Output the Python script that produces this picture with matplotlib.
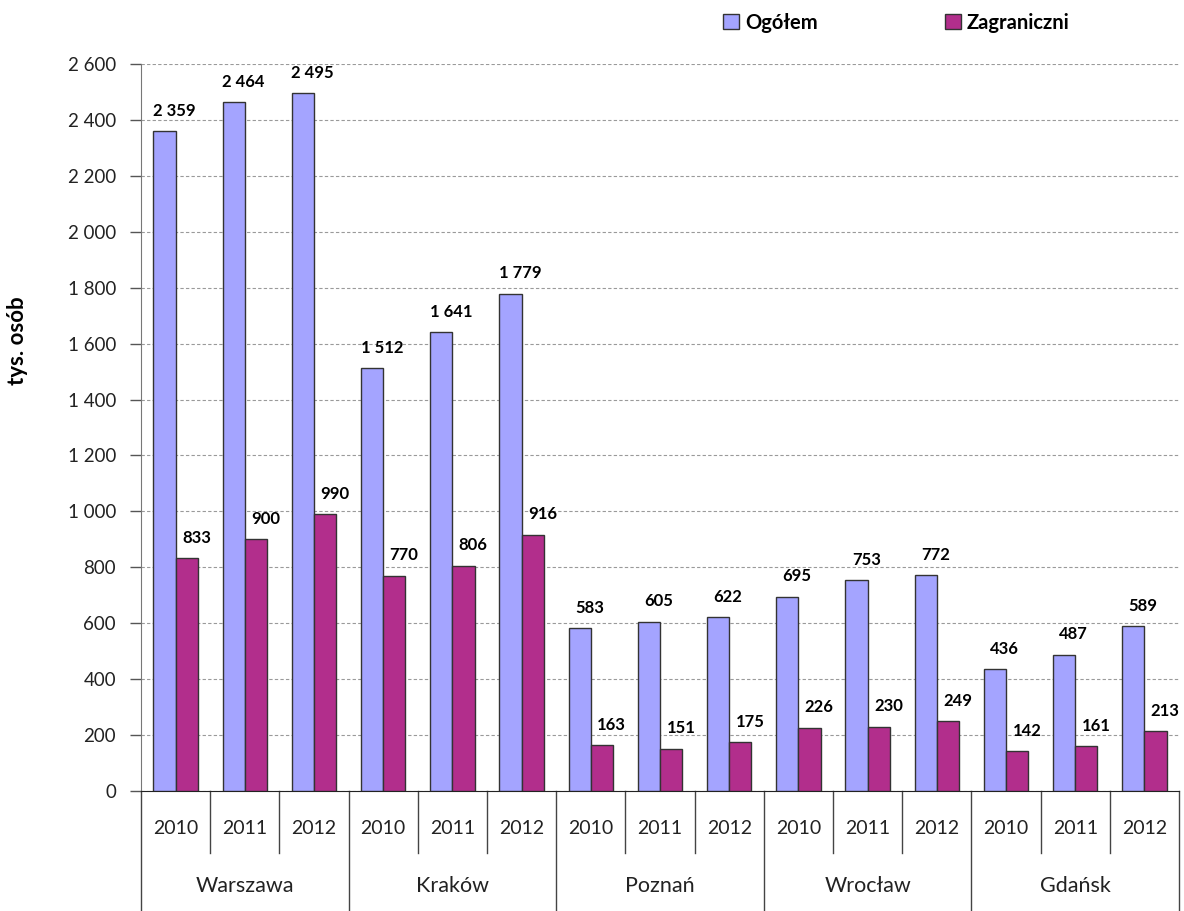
import matplotlib
matplotlib.use("Agg")
import matplotlib.pyplot as plt
import numpy as np

plt.rcParams["font.family"] = ["Lato", "DejaVu Sans"]

cities = ["Warszawa", "Kraków", "Poznań", "Wrocław", "Gdańsk"]
years = ["2010", "2011", "2012"]
ogolem = [2359, 2464, 2495, 1512, 1641, 1779, 583, 605, 622, 695, 753, 772, 436, 487, 589]
zagraniczni = [833, 900, 990, 770, 806, 916, 163, 151, 175, 226, 230, 249, 142, 161, 213]

BLUE = "#A4A4FF"
PURPLE = "#B22E8C"


def fmt(v):
    return f"{v:,}".replace(",", " ")


fig = plt.figure(figsize=(11.84, 9.11), dpi=100)
ax = fig.add_axes([0.1191, 0.1317, 0.9958 - 0.1191, 0.9297 - 0.1317])

n = len(ogolem)
x = np.arange(n)
w = 0.32
b1 = ax.bar(x - w / 2, ogolem, w, color=BLUE, edgecolor="#333333", linewidth=1.0,
            label="Ogółem", zorder=3)
b2 = ax.bar(x + w / 2, zagraniczni, w, color=PURPLE, edgecolor="#333333", linewidth=1.0,
            label="Zagraniczni", zorder=3)

# data labels, shifted right like in the source
for xi, v in zip(x, ogolem):
    ax.annotate(fmt(v), (xi - w / 2, v), xytext=(7, 9), textcoords="offset points",
                ha="center", va="bottom", fontsize=12, fontweight="bold")
for xi, v in zip(x, zagraniczni):
    ax.annotate(fmt(v), (xi + w / 2, v), xytext=(7, 9), textcoords="offset points",
                ha="center", va="bottom", fontsize=12, fontweight="bold")

ax.set_xlim(-0.5, n - 0.5)
ax.set_ylim(0, 2600)
ax.set_yticks(np.arange(0, 2601, 200))
ax.set_yticklabels([fmt(v) for v in range(0, 2601, 200)], fontsize=13.5, color="#222222")
ax.yaxis.grid(True, linestyle=(0, (3, 2)), color="#9a9a9a", linewidth=0.8, zorder=0)
ax.tick_params(axis="y", length=8, width=1.0, color="#555555", pad=10)
ax.set_xticks([])

for s in ["top", "right"]:
    ax.spines[s].set_visible(False)
ax.spines["left"].set_linestyle((0, (2, 1)))
ax.spines["left"].set_color("#777777")
ax.spines["bottom"].set_color("#222222")

ax.set_ylabel("tys. osób", fontsize=16, fontweight="bold")
ax.yaxis.set_label_coords(-0.109, 0.62)

# multi-level category axis
trans = ax.get_xaxis_transform()
for i in range(n):
    ax.text(i, -0.051, years[i % 3], transform=trans, ha="center", va="center",
            fontsize=14, color="#222222")
for i in range(n + 1):
    bottom = -0.165 if i % 3 == 0 else -0.0853
    ax.plot([i - 0.5, i - 0.5], [0, bottom], transform=trans, color="#444444",
            linewidth=1.0, clip_on=False)
for j, c in enumerate(cities):
    ax.text(3 * j + 1, -0.131, c, transform=trans, ha="center", va="center",
            fontsize=15.5, color="#222222")

fig.legend(handles=[b1, b2], loc="center", bbox_to_anchor=(0.757, 0.975), ncol=2,
           frameon=False, handlelength=0.8, handleheight=0.8,
           handletextpad=0.3, columnspacing=6.3, prop={"weight": "bold", "size": 14.5})

fig.savefig("out.png", dpi=100, facecolor="white")
